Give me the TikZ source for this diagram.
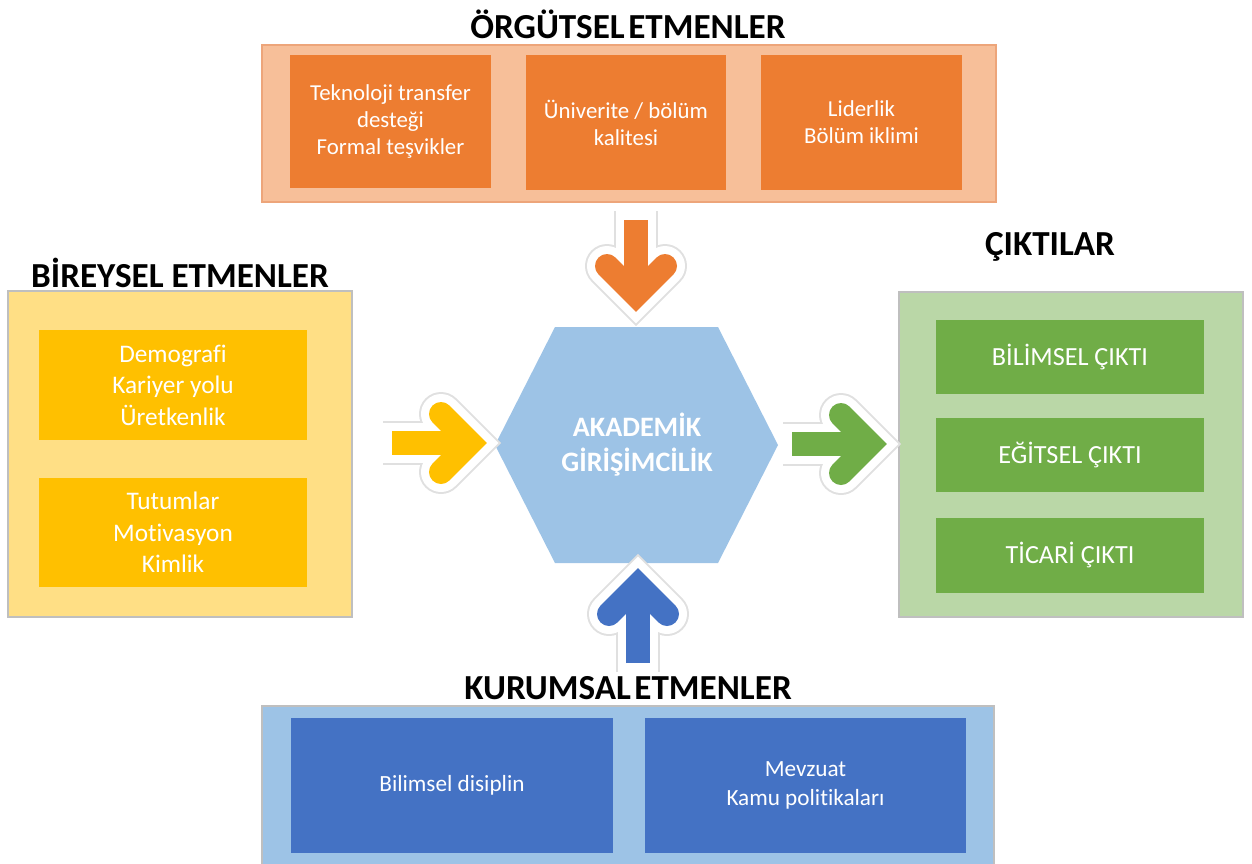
\documentclass[tikz,border=0pt]{standalone}
\usepackage{fontspec}
\setmainfont{Carlito}[Ligatures=NoCommon]
\usetikzlibrary{fit}
\definecolor{orP}{HTML}{F7BF99}
\definecolor{orB}{HTML}{ED7D31}
\definecolor{orE}{HTML}{EDA57A}
\definecolor{yeP}{HTML}{FFDF85}
\definecolor{yeB}{HTML}{FFC000}
\definecolor{grP}{HTML}{BAD7A7}
\definecolor{grB}{HTML}{70AD47}
\definecolor{blP}{HTML}{9DC3E6}
\definecolor{blB}{HTML}{4472C4}
\definecolor{edge}{HTML}{BFBFBF}
\tikzset{
  panel/.style={inner sep=0pt, outer sep=0pt, draw=edge, line width=0.6pt},
  ibox/.style={inner sep=0pt, outer sep=0pt, text=white, align=center},
  ttl/.style={font=\fontsize{20}{23}\selectfont\bfseries, text=black, inner sep=0pt},
  sm/.style={font=\fontsize{13}{15.3}\selectfont},
  md/.style={font=\fontsize{14.4}{17.9}\selectfont},
  mr/.style={font=\fontsize{14.9}{17.9}\selectfont},
  bt/.style={font=\fontsize{13.2}{16.4}\selectfont},
  arrgrey/.style={draw=black!12, line width=0.88cm},
  arrwhite/.style={draw=white, line width=0.8cm},
  arrcol/.style={line width=0.48cm},
}
\begin{document}
\begin{tikzpicture}[x=0.02cm,y=-0.02cm]
\useasboundingbox (0,0) rectangle (1252,863);
% panels
\node[panel, fill=orP, draw=orE, fit={(262,45)(996,202)}] (orgP) {};
\node[panel, fill=yeP, fit={(8,291)(352,617)}] (birP) {};
\node[panel, fill=grP, fit={(899,292)(1243,617)}] (cikP) {};
\node[panel, fill=blP, fit={(262,706)(994,866)}] (kurP) {};
% titles
\node[ttl] (orgT) at (628,24) {ÖRGÜTSEL\hspace{0.1em}ETMENLER};
\node[ttl] (birT) at (180,273) {BİREYSEL ETMENLER};
\node[ttl] (cikT) at (1050,247) {ÇIKTILAR};
\node[ttl] (kurT) at (628,688) {KURUMSAL\hspace{0.1em}ETMENLER};
% top boxes
\node[ibox, sm, fill=orB, fit={(290,55)(491,188)}] (o1) {};
\node[ibox, sm] at (o1.center) {Teknoloji transfer\\desteği\\Formal teşvikler};
\node[ibox, sm, fill=orB, fit={(526,55)(726,190)}] (o2) {};
\node[ibox, sm] at (o2.center) {Üniverite / bölüm\\kalitesi};
\node[ibox, sm, fill=orB, fit={(761,55)(962,190)}] (o3) {};
\node[ibox, sm] at (o3.center) {Liderlik\\Bölüm iklimi};
% left boxes
\node[ibox, fill=yeB, fit={(39,330)(307,440)}] (b1) {};
\node[ibox, md] at (b1.center) {Demograf\kern0pt i\\Kariyer yolu\\Üretkenlik};
\node[ibox, fill=yeB, fit={(39,478)(307,587)}] (b2) {};
\node[ibox, md] at (b2.center) {Tutumlar\\Motivasyon\\Kimlik};
% right boxes
\node[ibox, fill=grB, fit={(936,320)(1204,394)}] (c1) {};
\node[ibox, mr] at (c1.center) {BİLİMSEL ÇIKTI};
\node[ibox, fill=grB, fit={(936,418)(1204,492)}] (c2) {};
\node[ibox, mr] at (c2.center) {EĞİTSEL ÇIKTI};
\node[ibox, fill=grB, fit={(936,518)(1204,593)}] (c3) {};
\node[ibox, mr] at (c3.center) {TİCARİ ÇIKTI};
% bottom boxes
\node[ibox, fill=blB, fit={(291,718)(613,853)}] (k1) {};
\node[ibox, bt] at (k1.center) {Bilimsel disiplin};
\node[ibox, fill=blB, fit={(645,718)(966,853)}] (k2) {};
\node[ibox, bt] at (k2.center) {Mevzuat\\Kamu politikaları};
% hexagon
\fill[blP] (555,327) -- (718,327) -- (778,445) -- (718,563) -- (555,563) -- (495,445) -- cycle;
\node[ibox, font=\fontsize{16}{20}\selectfont\bfseries] (hex) at (637,445) {AKADEMİK\\GİRİŞİMCİLİK};
% arrows: coordinates
\coordinate (oT) at (636,211); \coordinate (oS) at (636,220); \coordinate (oV) at (636,295);
\coordinate (oL) at (607,266); \coordinate (oR) at (665,266);
\coordinate (yT) at (383,443); \coordinate (yS) at (392,443); \coordinate (yV) at (470,443);
\coordinate (yL) at (441,414); \coordinate (yR) at (441,472);
\coordinate (gT) at (783,444); \coordinate (gS) at (792,444); \coordinate (gV) at (870,444);
\coordinate (gL) at (841,415); \coordinate (gR) at (841,473);
\coordinate (bT) at (638,672); \coordinate (bS) at (638,663); \coordinate (bV) at (638,585);
\coordinate (bL) at (609,614); \coordinate (bR) at (667,614);
\foreach \a/\c in {o/orB,y/yeB,g/grB,b/blB}{
  \draw[arrgrey] (\a T) -- (\a V);
  \draw[arrgrey, line cap=round, line join=miter] (\a L) -- (\a V) -- (\a R);
  \draw[arrwhite] (\a T) -- (\a V);
  \draw[arrwhite, line cap=round, line join=miter] (\a L) -- (\a V) -- (\a R);
  \draw[arrcol, draw=\c] (\a S) -- (\a V);
  \draw[arrcol, draw=\c, line cap=round, line join=miter] (\a L) -- (\a V) -- (\a R);
}
\end{tikzpicture}
\end{document}
